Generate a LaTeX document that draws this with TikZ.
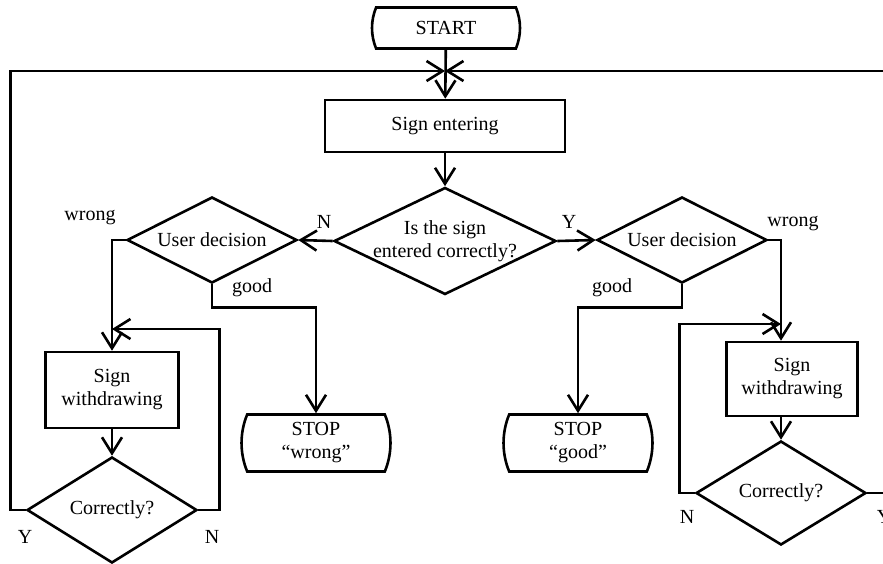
\documentclass[tikz,border=0pt]{standalone}
\usepackage{fontspec}
\setmainfont{Liberation Serif}
\usepackage{tikz}
\usetikzlibrary{shapes, shapes.geometric, shapes.misc, arrows.meta, positioning, calc}

\begin{document}
\begin{tikzpicture}[x=0.5pt, y=-0.5pt, line width=1.3pt, >={Straight Barb[length=8pt,width=10pt]}, every node/.style={font=\fontsize{10}{11.5}\selectfont}]
		%			\tikzstyle{termbox}=[draw=black, rounded corners=4pt, align=center]
		\tikzstyle{termbox}=[draw=black, rounded rectangle, rounded rectangle arc length=45, inner sep=-3pt, align=center, fill=none, text=black]
		\tikzstyle{procbox}=[draw=black, rectangle, align=center, fill=none, text=black]
		\tikzstyle{askbox}=[draw=black, diamond, shape aspect=2, inner sep=-4pt, align=center, fill=none, text=black]
		\tikzstyle{flowlabel}=[inner sep=0pt, text=black]

		\useasboundingbox (0,0) rectangle (883,563);

		\node (start) at (446,28) [termbox, minimum width=68pt, minimum height=20.5pt] {START};
		\node (enter) at (445,126) [procbox, minimum width=120pt, minimum height=26pt] {Sign entering};
		\node (check) at (445,241) [askbox, minimum width=111pt, minimum height=53.5pt] {Is the sign\\entered correctly?};

		\node (ud1) at (212,240) [askbox, minimum width=85pt, minimum height=43pt] {User decision};
		\node (ud2) at (682,240) [askbox, minimum width=85pt, minimum height=43pt] {User decision};

		\node (sw1) at (112,390) [procbox, minimum width=66.5pt, minimum height=38pt] {Sign\\withdrawing};
		\node (cor1) at (112,510) [askbox, minimum width=85pt, minimum height=53pt] {Correctly?};

		\node (sw2) at (792,379) [procbox, minimum width=65.5pt, minimum height=37pt] {Sign\\withdrawing};
		\node (cor2) at (781,493) [askbox, minimum width=85pt, minimum height=52pt] {Correctly?};

		\node (stopw) at (316,443) [termbox, minimum width=58pt, minimum height=28.5pt] {STOP\\“wrong”};
		\node (stopg) at (578,443) [termbox, minimum width=58pt, minimum height=28.5pt] {STOP\\“good”};

		\coordinate (join) at (445,71);
		\coordinate (rtop) at (900,71);
		\coordinate (back1) at (112,329);
		\coordinate (back2) at (781,324);

		% main line
		\draw [->] (start) -- (enter);
		\draw [->] (enter) -- (check);
		\draw [->] (check.west) -- (ud1.east);
		\draw [->] (check.east) -- (ud2.west);

		% left branch
		\draw [->] (ud1.west) -| (sw1.north);
		\draw [->] (ud1.south) -- ++(0,23) -| (stopw.north);
		\draw [->] (sw1) -- (cor1);
		\draw [->] (cor1.east) -- ++(21,0) |- (back1);
		\draw [->] (cor1.west) -- ++(-15,0) |- (join);

		% right branch
		\draw [->] (ud2.east) -| (cor2.north |- sw2.north);
		\draw [->] (ud2.south) -- ++(0,23) -| (stopg.north);
		\draw [->] (cor2.north |- sw2.south) -- (cor2.north);
		\draw [->] (cor2.west) -- ++(-15,0) |- (back2);
		\draw (cor2.east) -- ++(30,0);
		\draw [->] (rtop) -- (join);

		\node (lN) at (324,222) [flowlabel] {N};
		\node (lY) at (569,222) [flowlabel] {Y};
		\node (lw1) at (90,218) [flowlabel] {wrong};
		\node (lg1) at (252,288) [flowlabel] {good};
		\node (lw2) at (793,224) [flowlabel] {wrong};
		\node (lg2) at (612,288) [flowlabel] {good};
		\node (lY1) at (25,537) [flowlabel] {Y};
		\node (lN1) at (212,537) [flowlabel] {N};
		\node (lN2) at (687,517) [flowlabel] {N};
		\node (lY2) at (884,517) [flowlabel] {Y};

\end{tikzpicture}
\end{document}
